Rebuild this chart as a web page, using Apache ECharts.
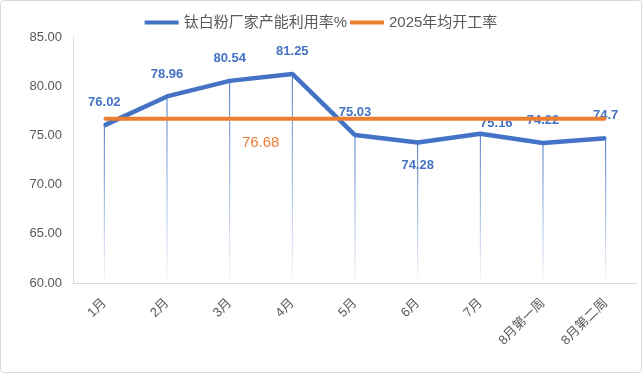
<!DOCTYPE html>
<html>
<head>
<meta charset="utf-8">
<script src="https://cdn.jsdelivr.net/npm/echarts@6/dist/echarts.min.js"></script>
<style>
html,body{margin:0;padding:0;background:#fff;}
#chart{width:642px;height:373px;}
</style>
</head>
<body>
<div id="chart"></div>
<script>
const categories = ['1月','2月','3月','4月','5月','6月','7月','8月第一周','8月第二周'];
const utilization = [76.02, 78.96, 80.54, 81.25, 75.03, 74.28, 75.16, 74.22, 74.7];
const avgRate = [76.68, 76.68, 76.68, 76.68, 76.68, 76.68, 76.68, 76.68, 76.68];
const yTicks = {min: 60, max: 85, interval: 5};
const seriesNames = ['钛白粉厂家产能利用率%', '2025年均开工率'];

const FONT = '"Liberation Sans", "Noto Sans CJK SC", sans-serif';
const BLUE = '#4472C4', ORANGE = '#ED7D31', GRAY = '#595959';

// per-point label tweaks (styling only)
const blueLabelTweaks = {5: {position: 'bottom'}, 6: {offset: [16, 12]}};
const orangeLabelIndex = 2;

const chart = echarts.init(document.getElementById('chart'), null, {renderer: 'canvas'});
chart.setOption({
  animation: false,
  backgroundColor: '#fff',
  textStyle: {fontFamily: FONT},
  graphic: [{
    type: 'rect', silent: true, z: -10,
    shape: {x: 0.5, y: 0.5, width: 641, height: 372, r: 3},
    style: {fill: 'none', stroke: '#d9d9d9', lineWidth: 1}
  }],
  legend: {
    data: seriesNames,
    top: 15, left: 'center', padding: 0, itemGap: 3,
    icon: 'rect', itemWidth: 34, itemHeight: 4,
    textStyle: {fontSize: 15, color: GRAY, fontFamily: FONT}
  },
  grid: {left: 73, right: 5, top: 37, bottom: 90, containLabel: false},
  xAxis: {
    type: 'category', data: categories, boundaryGap: true,
    axisLine: {lineStyle: {color: '#d9d9d9', width: 1}},
    axisTick: {show: false},
    axisLabel: {rotate: 45, interval: 0, margin: 18, color: GRAY, fontSize: 13, fontFamily: FONT}
  },
  yAxis: {
    type: 'value', min: yTicks.min, max: yTicks.max, interval: yTicks.interval,
    axisLine: {show: true, lineStyle: {color: '#d9d9d9', width: 1}},
    axisTick: {show: false},
    splitLine: {show: false},
    axisLabel: {margin: 11, color: GRAY, fontSize: 13, fontFamily: FONT,
      formatter: v => v.toFixed(2)}
  },
  series: [
    {
      name: 'drop', type: 'bar', data: utilization, barWidth: 1, z: 1,
      silent: true, clip: true,
      itemStyle: {color: new echarts.graphic.LinearGradient(0, 0, 0, 1, [
        {offset: 0, color: 'rgba(68,114,196,1)'},
        {offset: 1, color: 'rgba(68,114,196,0.05)'}
      ])}
    },
    {
      name: seriesNames[0], type: 'line', z: 3,
      data: utilization.map((v, i) => {
        const o = {value: v};
        if (blueLabelTweaks[i]) o.label = blueLabelTweaks[i];
        return o;
      }),
      symbol: 'circle', symbolSize: 2, showSymbol: true,
      lineStyle: {color: BLUE, width: 4.5},
      itemStyle: {color: BLUE},
      label: {show: true, position: 'top', distance: 15, color: BLUE, fontSize: 13,
        fontWeight: 'bold', fontFamily: FONT, formatter: p => String(p.value)}
    },
    {
      name: seriesNames[1], type: 'line', z: 4,
      data: avgRate.map((v, i) => i === orangeLabelIndex
        ? {value: v, label: {show: true, position: 'bottom', distance: 15, offset: [31, 0],
            color: ORANGE, fontSize: 15, fontFamily: FONT, formatter: p => String(p.value)}}
        : {value: v}),
      symbol: 'circle', symbolSize: 2, showSymbol: true,
      lineStyle: {color: ORANGE, width: 4},
      itemStyle: {color: ORANGE},
      label: {show: false}
    }
  ]
});
</script>
</body>
</html>
